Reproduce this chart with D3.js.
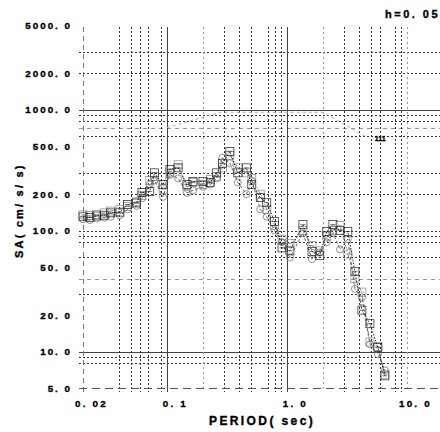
<!DOCTYPE html>
<html>
<head>
<meta charset="utf-8">
<script src="https://cdn.jsdelivr.net/npm/d3@7"></script>
<style>
  body { margin: 0; background: #fff; }
  text { font-family: "Liberation Sans", Arial, sans-serif; font-weight: bold; fill: #000; stroke: #000; stroke-width: 0.35; }
</style>
</head>
<body>
<script>
// spectrum values (period in s, SA in cm/s/s)
const periods = [0.02, 0.0228, 0.026, 0.030, 0.034, 0.0406, 0.047, 0.056, 0.062, 0.072,
  0.079, 0.093, 0.106, 0.124, 0.147, 0.165, 0.2, 0.23, 0.26, 0.29,
  0.335, 0.39, 0.46, 0.51, 0.6, 0.68, 0.79, 0.91, 1.06, 1.36,
  1.62, 1.88, 2.15, 2.42, 2.77, 3.22, 3.69, 4.22, 4.92, 5.73, 6.56];

const saSquares = [130, 128, 132, 134, 140, 142, 164, 172, 206, 210,
  300, 240, 320, 330, 240, 255, 255, 250, 300, 360,
  450, 300, 330, 240, 187, 170, 119, 72, 68, 112,
  67, 62, 98, 112, 100, 98, 46, 22, 17, 10.8, 6.3];

const saCircles = [124, 122, 126, 128, 130, 134, 150, 160, 185, 240,
  260, 190, 290, 270, 205, 215, 230, 240, 270, 400,
  360, 250, 200, 260, 150, 130, 100, 80, 60, 95,
  58, 66, 80, 96, 70, 85, 33, 28, 11.5, 9.5, 7];

const saGray = [135, 133, 136, 140, 145, 150, 158, 168, 195, 260,
  280, 220, 300, 350, 230, 250, 240, 265, 280, 330,
  420, 330, 300, 270, 200, 150, 110, 85, 78, 100,
  75, 68, 90, 100, 110, 64, 40, 31, 12, 11, 6.5];

const designT = [0.1, 0.28, 2.0, 4.5];
const designSA = [710, 950, 950, 600];

const yTickVals = [5, 10, 20, 50, 100, 200, 500, 1000, 2000, 5000];
const yTickLabels = ["5. 0", "10. 0", "20. 0", "50. 0", "100. 0", "200. 0", "500. 0", "1000. 0", "2000. 0", "5000. 0"];
const xTickVals = [0.02, 0.1, 1, 10];
const xTickLabels = ["0. 02", "0. 1", "1. 0", "10. 0"];

const hGridSolid = [1000, 10];
const hGridDark = [3000, 2000, 900, 800, 600, 300, 200, 100, 90, 80, 60, 30, 9, 8];
const hGridFaint = [700, 40];
const vGridSolid = [0.1, 1];
const vGridDark = [0.04, 0.05, 0.06, 0.07, 0.09, 0.3, 0.4, 0.5, 0.7, 0.8, 0.9, 3, 4, 5, 6, 8, 9];
const vGridFaint = [0.2, 2, 10];

const width = 440, height = 432;

const svg = d3.select("body").append("svg")
  .attr("width", width)
  .attr("height", height);

const x = d3.scaleLog().domain([0.02, 20]).range([83, 443]);
const y = d3.scaleLog().domain([5, 5000]).range([388, 25]);

const gridLeft = 79, gridRight = 440;

// horizontal grid
const hLine = (vals, color, dash, cls) => {
  svg.selectAll("line." + cls).data(vals).enter().append("line")
    .attr("class", cls)
    .attr("x1", gridLeft).attr("x2", gridRight)
    .attr("y1", d => Math.round(y(d)) + 0.5).attr("y2", d => Math.round(y(d)) + 0.5)
    .attr("stroke", color)
    .attr("stroke-dasharray", dash);
};
hLine(hGridFaint, "#999", "4,4", "hf");
hLine(hGridDark, "#333", "2,2", "hd");
hLine(hGridSolid, "#444", null, "hs");

// vertical grid
const vLine = (vals, color, dash, cls) => {
  svg.selectAll("line." + cls).data(vals).enter().append("line")
    .attr("class", cls)
    .attr("x1", d => Math.round(x(d)) + 0.5).attr("x2", d => Math.round(x(d)) + 0.5)
    .attr("y1", y(5000) + 2).attr("y2", y(5) + 4)
    .attr("stroke", color)
    .attr("stroke-dasharray", dash);
};
vLine(vGridFaint, "#999", "2,3", "vf");
vLine(vGridDark, "#333", "2,2", "vd");
vLine(vGridSolid, "#444", null, "vs");

// frame: left and bottom dashed
svg.append("line")
  .attr("x1", x(0.02) + 0.5).attr("x2", x(0.02) + 0.5)
  .attr("y1", y(5000) + 2).attr("y2", y(5) + 4)
  .attr("stroke", "#777").attr("stroke-dasharray", "5,4");
svg.append("line")
  .attr("x1", gridLeft).attr("x2", gridRight)
  .attr("y1", Math.round(y(5)) + 0.5).attr("y2", Math.round(y(5)) + 0.5)
  .attr("stroke", "#555").attr("stroke-dasharray", "8,5");

// design spectrum (faint)
const line = d3.line().x(d => x(d[0])).y(d => y(d[1]));
svg.append("path")
  .datum(d3.zip(designT, designSA))
  .attr("d", line)
  .attr("fill", "none")
  .attr("stroke", "#aaa")
  .attr("stroke-dasharray", "3,3");
svg.append("text")
  .attr("x", x(5.4)).attr("y", y(545))
  .attr("font-size", 7)
  .text("111");

// spectra
const series = [
  { vals: saGray, color: "#888", dash: "4,2,1,2", mark: "square" },
  { vals: saCircles, color: "#666", dash: "3,2", mark: "circle" },
  { vals: saSquares, color: "#222", dash: "1.5,1.5", mark: "square" }
];

series.forEach((s) => {
  const pts = d3.zip(periods, s.vals);
  svg.append("path")
    .datum(pts)
    .attr("d", line)
    .attr("fill", "none")
    .attr("stroke", s.color)
    .attr("stroke-width", 1)
    .attr("stroke-dasharray", s.dash);

  const g = svg.append("g");
  if (s.mark === "square") {
    const m = g.selectAll("g").data(pts).enter().append("g")
      .attr("transform", d => `translate(${x(d[0])},${y(d[1])})`);
    m.append("rect")
      .attr("x", -4).attr("y", -4).attr("width", 8).attr("height", 8)
      .attr("fill", "none").attr("stroke", s.color).attr("stroke-width", 0.7);
    m.append("line")
      .attr("x1", -2.5).attr("x2", 2.5).attr("y1", 0).attr("y2", 0)
      .attr("stroke", s.color).attr("stroke-width", 0.6);
  } else {
    g.selectAll("circle").data(pts).enter().append("circle")
      .attr("cx", d => x(d[0])).attr("cy", d => y(d[1]))
      .attr("r", 3.5)
      .attr("fill", "none").attr("stroke", s.color).attr("stroke-width", 0.7);
  }
});

// axes labels
const yAxis = d3.axisLeft(y)
  .tickValues(yTickVals)
  .tickFormat((d, i) => yTickLabels[i])
  .tickSize(0)
  .tickPadding(11);
const yg = svg.append("g").attr("transform", `translate(${x(0.02)},0)`).call(yAxis);
yg.select(".domain").remove();
yg.selectAll("text")
  .attr("font-family", "Liberation Sans, Arial, sans-serif")
  .attr("font-size", 9.8)
  .attr("font-weight", "bold")
  .attr("letter-spacing", 2)
  .attr("fill", "#000");

const xAxis = d3.axisBottom(x)
  .tickValues(xTickVals)
  .tickFormat((d, i) => xTickLabels[i])
  .tickSize(0)
  .tickPadding(12);
const xg = svg.append("g").attr("transform", `translate(0,${y(5)})`).call(xAxis);
xg.select(".domain").remove();
xg.selectAll("text")
  .attr("dx", 8)
  .attr("font-family", "Liberation Sans, Arial, sans-serif")
  .attr("font-size", 9.8)
  .attr("font-weight", "bold")
  .attr("letter-spacing", 2.2)
  .attr("fill", "#000");

// titles
svg.append("text")
  .attr("x", 209).attr("y", 425)
  .attr("font-size", 12)
  .attr("letter-spacing", 2.4)
  .text("PERIOD( sec)");

svg.append("text")
  .attr("transform", "translate(23,258) rotate(-90)")
  .attr("font-size", 11)
  .attr("letter-spacing", 2.2)
  .text("SA( cm/ s/ s)");

svg.append("text")
  .attr("x", 385).attr("y", 18)
  .attr("font-size", 11)
  .attr("letter-spacing", 2.5)
  .text("h=0. 05");
</script>
</body>
</html>
